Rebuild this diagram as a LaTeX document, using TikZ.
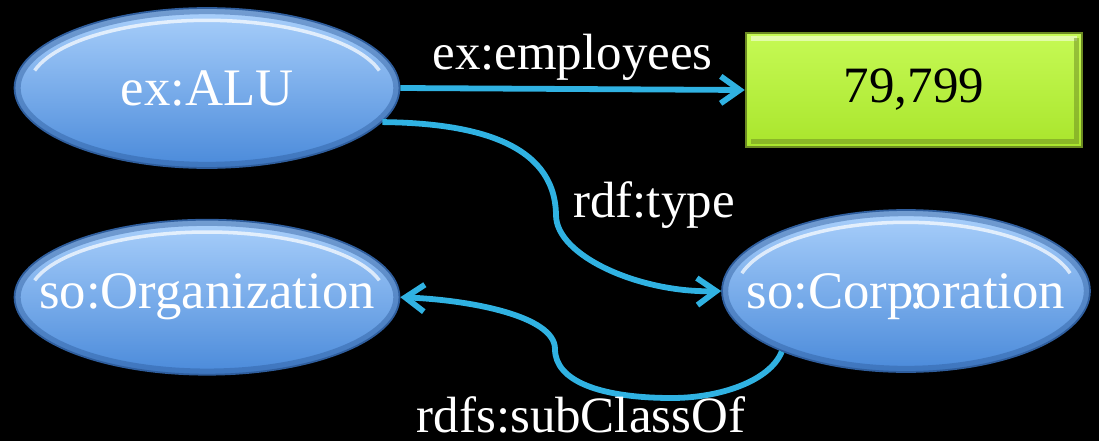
\documentclass[tikz,border=0pt]{standalone}
\usepackage{fontspec}
\setmainfont{Liberation Serif}
\usetikzlibrary{positioning}
\usetikzlibrary{calc}
\usetikzlibrary{shapes.geometric}
\usetikzlibrary{arrows.meta}

\definecolor{bubbleTop}{HTML}{AAD0FB}
\definecolor{bubbleBottom}{HTML}{4A8ADA}
\definecolor{bubbleRim}{HTML}{2F5E9E}
\definecolor{literalTop}{HTML}{C6FA55}
\definecolor{literalBottom}{HTML}{A9E52C}
\definecolor{literalRim}{HTML}{6B8A22}
\definecolor{link}{HTML}{30B2E2}

\tikzset{
    % Open barbed heads on every property link
    >={Straight Barb[length=3.8mm,width=5.4mm]},
%
    % Glossy blue bubble for resources and classes
    resource/.style={
        draw=bubbleRim, line width=1pt, ellipse, inner sep=0,
        top color=bubbleTop, bottom color=bubbleBottom,
        path picture={
            \draw[bubbleRim, opacity=.45, line width=7pt]
                let \p1=($(path picture bounding box.north east)-(path picture bounding box.center)$)
                in (path picture bounding box.center) ellipse ({\x1} and {\y1});
            \draw[white, opacity=.7, line width=2pt]
                let \p1=($(path picture bounding box.north east)-(path picture bounding box.center)$)
                in ($(path picture bounding box.center)+({(\x1-8pt)*cos(165)},{(\y1-7pt)*sin(165)})$)
                arc[start angle=165, end angle=15, x radius=\x1-8pt, y radius=\y1-7pt];
        }},
    bubble text/.style={text=white, font=\fontsize{30}{35}\selectfont},
%
    % Bevelled green box for a literal value
    literal/.style={
        draw=literalRim, line width=1.5pt, rectangle,
        top color=literalTop, bottom color=literalBottom,
        font=\fontsize{29}{34}\selectfont,
        path picture={
            \draw[white, opacity=.5, line width=3pt]
                ([shift={(3pt,-3pt)}]path picture bounding box.north west)
                -- ([shift={(-3pt,-3pt)}]path picture bounding box.north east);
            \draw[literalRim, opacity=.5, line width=3pt]
                ([shift={(3pt,3pt)}]path picture bounding box.south west)
                -- ([shift={(-3pt,3pt)}]path picture bounding box.south east)
                -- ([shift={(-3pt,-3pt)}]path picture bounding box.north east);
        }},
%
    % Property links and their names
    property/.style={->, draw=link, line width=3.3pt},
    property label/.style={text=white, font=\fontsize{29}{33}\selectfont, inner sep=1pt}}

\begin{document}
\begin{tikzpicture}[x=0.02cm, y=0.02cm]

\useasboundingbox (0,0) rectangle (1099,441);
\fill[black] (0,0) rectangle (1099,441);

% The company and the two classes
\node[resource, minimum width=7.7cm, minimum height=3.2cm,
    label={[bubble text]center:{ex:ALU}}]
    (alu) at (207,353) {};

\node[resource, minimum width=7.7cm, minimum height=3.1cm, below=10mm of alu,
    label={[bubble text]center:{so:Organization}}]
    (org) {};

\node[resource, minimum width=7.36cm, minimum height=3.24cm,
    label={[bubble text, yshift=-3pt]center:{so:Corp\kern-.08em:\kern-.16em oration}}]
    (corp) at (906,150) {};

% Number of employees as a literal
\node[literal, minimum width=6.72cm, minimum height=2.28cm]
    (headcount) at (914,351) {79,799};

\draw[property] (alu.east) -- (headcount.west)
    node[property label, midway, above=2pt] (employees label) {ex:employees};

% Type link swinging down into the class
\draw[property] (alu.-11) .. controls (470,318) and (555,300) .. (556,226)
    .. controls (556,185) and (640,148) .. (corp.west);
\node[property label] (type label) at (654,236) {rdf:type};

% Subclass link looping underneath
\draw[property] (corp.206) .. controls (770,60) and (720,43) .. (672,43)
    .. controls (600,43) and (555,60) .. (555,92)
    .. controls (555,125) and (470,141) .. (org.east);
\node[property label] (subclass label) at (581,26) {rdfs:subClassOf};

\end{tikzpicture}
\end{document}
